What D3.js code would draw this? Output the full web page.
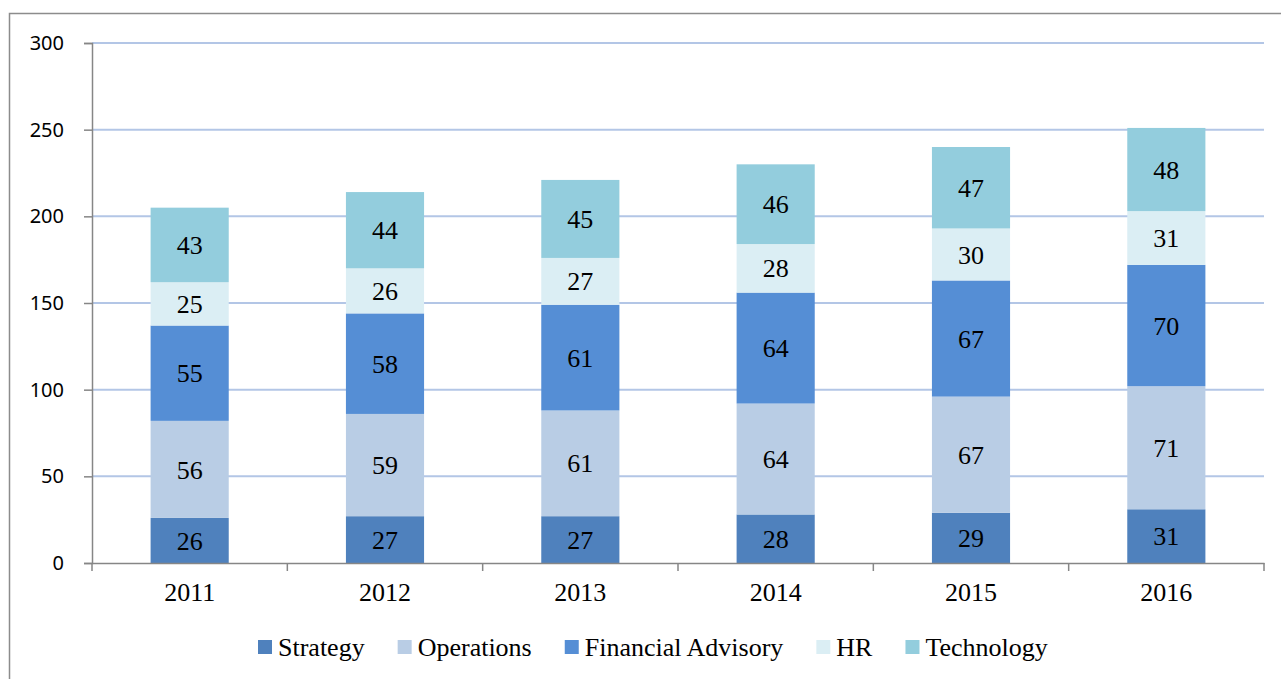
<!DOCTYPE html>
<html>
<head>
<meta charset="utf-8">
<script src="https://cdn.jsdelivr.net/npm/d3@7"></script>
<style>
  body { margin: 0; background: #fff; }
  svg { display: block; }
</style>
</head>
<body>
<svg id="chart" width="1281" height="679"></svg>
<script>
// chart data
const years = ["2011", "2012", "2013", "2014", "2015", "2016"];
const seriesNames = ["Strategy", "Operations", "Financial Advisory", "HR", "Technology"];
const strategy = [26, 27, 27, 28, 29, 31];
const operations = [56, 59, 61, 64, 67, 71];
const financialAdvisory = [55, 58, 61, 64, 67, 70];
const hr = [25, 26, 27, 28, 30, 31];
const technology = [43, 44, 45, 46, 47, 48];
const yTicks = [0, 50, 100, 150, 200, 250, 300];

const colors = ["#4f81bd", "#b9cde5", "#558ed5", "#dbeef4", "#93cddd"];
const serif = "'Liberation Serif', 'Times New Roman', serif";

const svg = d3.select("#chart");
const width = 1281, height = 679;
const margin = { left: 92, right: 17, top: 43, bottom: 116 };

// outer frame
svg.append("path")
    .attr("d", `M9.5,${height} V13.5 H${width}`)
    .attr("fill", "none")
    .attr("stroke", "#8c8c8c")
    .attr("stroke-width", 1.5);

const table = years.map((y, i) => ({
    year: y,
    "Strategy": strategy[i],
    "Operations": operations[i],
    "Financial Advisory": financialAdvisory[i],
    "HR": hr[i],
    "Technology": technology[i]
}));

const stacked = d3.stack().keys(seriesNames)(table);

const x = d3.scaleBand()
    .domain(years)
    .range([margin.left, width - margin.right])
    .paddingInner(0.6)
    .paddingOuter(0.3);

const y = d3.scaleLinear()
    .domain([0, 300])
    .range([height - margin.bottom, margin.top]);

// gridlines
svg.append("g")
    .selectAll("line")
    .data(yTicks.filter(t => t > 0))
    .join("line")
    .attr("x1", margin.left)
    .attr("x2", width - margin.right)
    .attr("y1", d => y(d))
    .attr("y2", d => y(d))
    .attr("stroke", "#b3c6e6")
    .attr("stroke-width", 2);

// bars
const layers = svg.append("g")
    .selectAll("g")
    .data(stacked)
    .join("g")
    .attr("fill", (d, i) => colors[i]);

layers.selectAll("rect")
    .data(d => d)
    .join("rect")
    .attr("x", d => x(d.data.year))
    .attr("width", x.bandwidth())
    .attr("y", d => y(d[1]))
    .attr("height", d => y(d[0]) - y(d[1]));

// data labels
layers.selectAll("text")
    .data(d => d.map(v => ({ v, key: d.key })))
    .join("text")
    .attr("x", d => x(d.v.data.year) + x.bandwidth() / 2)
    .attr("y", d => (y(d.v[0]) + y(d.v[1])) / 2)
    .attr("dy", "0.35em")
    .attr("text-anchor", "middle")
    .attr("fill", "#000")
    .style("font-family", serif)
    .style("font-size", "26px")
    .text(d => d.v.data[d.key]);

// y axis
const yAxis = svg.append("g")
    .attr("transform", `translate(${margin.left},0)`)
    .call(d3.axisLeft(y).tickValues(yTicks).tickSize(8).tickPadding(20));
yAxis.select(".domain").attr("stroke", "#868686").attr("stroke-width", 1.5);
yAxis.selectAll(".tick line").attr("stroke", "#868686").attr("stroke-width", 1.5);
yAxis.selectAll(".tick text")
    .attr("fill", "#000")
    .style("font-family", "'Noto Sans', 'Open Sans', sans-serif")
    .style("font-size", "20px");

// x axis
const xAxis = svg.append("g")
    .attr("transform", `translate(0,${y(0)})`)
    .call(d3.axisBottom(x).tickSize(0).tickPadding(20));
xAxis.select(".domain").attr("stroke", "#868686").attr("stroke-width", 1.5);
xAxis.selectAll(".tick text")
    .attr("fill", "#000")
    .style("font-family", serif)
    .style("font-size", "26px");

// category boundary ticks
const step = x.step();
const bounds = d3.range(years.length + 1).map(i => margin.left + i * step);
xAxis.append("g")
    .selectAll("line")
    .data(bounds)
    .join("line")
    .attr("x1", d => d)
    .attr("x2", d => d)
    .attr("y1", 0)
    .attr("y2", 8)
    .attr("stroke", "#868686")
    .attr("stroke-width", 1.5);

// legend
const legend = svg.append("g").attr("transform", "translate(258,647)");
let lx = 0;
seriesNames.forEach((name, i) => {
    const g = legend.append("g").attr("transform", `translate(${lx},0)`);
    g.append("rect")
        .attr("x", 0)
        .attr("y", -7)
        .attr("width", 14)
        .attr("height", 14)
        .attr("fill", colors[i]);
    const t = g.append("text")
        .attr("x", 20)
        .attr("y", 0)
        .attr("dy", "0.35em")
        .attr("fill", "#000")
        .style("font-family", serif)
        .style("font-size", "26px")
        .text(name);
    lx += 20 + t.node().getComputedTextLength() + 33;
});
</script>
</body>
</html>
